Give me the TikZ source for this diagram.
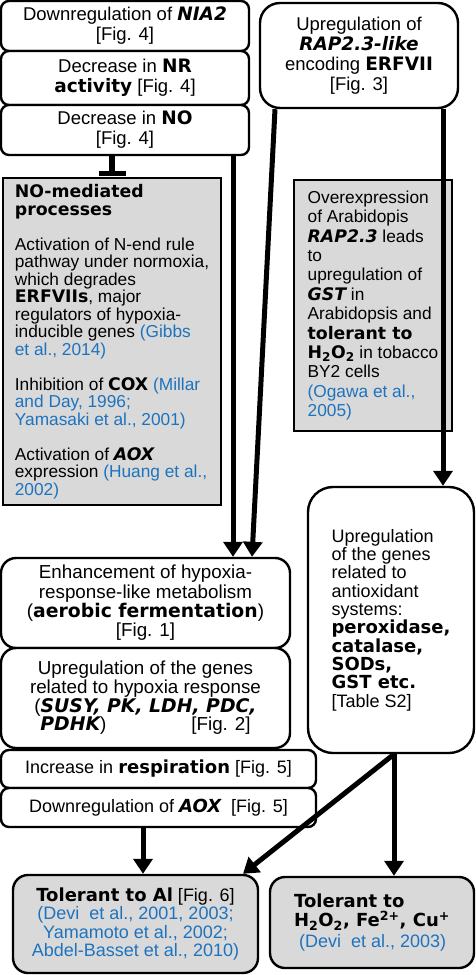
\documentclass[tikz,border=0pt]{standalone}
\usepackage{fontspec}
\setmainfont{Liberation Sans}
\newfontfamily\heavyfont{DejaVu Sans}
\usepackage{xcolor}
\usepackage{tikz}
\usetikzlibrary{arrows.meta}
\definecolor{RefBlue}{RGB}{30,115,190}
\definecolor{BoxGrey}{RGB}{217,217,217}
\newcommand{\hb}[1]{{\heavyfont\bfseries #1}}
\newcommand{\hbi}[1]{{\heavyfont\bfseries\itshape #1}}
\newcommand{\refc}[1]{\textcolor{RefBlue}{#1}}

\begin{document}
\begin{tikzpicture}[x=1pt, y=-1pt,
		box/.style={draw, line width=2.4pt, rounded corners=8pt, fill=white, inner sep=0pt, align=center, font=\fontsize{18.5}{20}\selectfont},
		bigbox/.style={box, rounded corners=15pt, font=\fontsize{18}{19}\selectfont},
		greybox/.style={draw, line width=1.2pt, fill=BoxGrey, inner sep=0pt, align=left, font=\fontsize{17.3}{17.5}\selectfont},
		arr/.style={line width=5pt, -{Triangle[width=19pt, length=15pt]}},
		]
		\useasboundingbox (0,0) rectangle (476,975);
		
		% ===== left column: NIA2 -> NR -> NO =====
		\node[box, minimum width=248pt, minimum height=50pt] (nia) at (125,26) {Downregulation of \hbi{NIA2}\\{}[Fig. 4]};
		\node[box, minimum width=248pt, minimum height=54pt] (nr) at (125,78) {Decrease in \hb{NR}\\\hb{activity} [Fig. 4]};
		\node[box, minimum width=248pt, minimum height=50pt] (no) at (125,130) {Decrease in \hb{NO}\\{}[Fig. 4]};
		
		% ===== right column: RAP2.3-like =====
		\node[box, rounded corners=20pt, minimum width=198pt, minimum height=105pt] (rap) at (359,55.5)
		{Upregulation of\\\hbi{RAP2.3-like}\\encoding \hb{ERFVII}\\{}[Fig. 3]};
		
		% ===== grey boxes (literature) =====
		\node[greybox, minimum width=218pt, minimum height=327pt] (nomed) at (112,341.5)
		{\hb{NO-mediated}\\\hb{processes}\\[17.5pt]
			Activation of N-end rule\\pathway under normoxia,\\which degrades\\\hb{ERFVIIs}, major\\regulators of hypoxia-\\inducible genes \refc{(Gibbs}\\\refc{et al., 2014)}\\[17.5pt]
			Inhibition of \hb{COX} \refc{(Millar}\\\refc{and Day, 1996;}\\\refc{Yamasaki et al., 2001)}\\[17.5pt]
			Activation of \hbi{AOX}\\expression \refc{(Huang et al.,}\\\refc{2002)}};
		\node[greybox, font=\fontsize{17.3}{19.4}\selectfont, minimum width=158pt, minimum height=251pt] (ogawa) at (373,305.5)
		{Overexpression\\of Arabidopis\\\hbi{RAP2.3} leads\\to\\upregulation of\\\hbi{GST} in\\Arabidopsis and\\\hb{tolerant to}\\\hb{H\textsubscript{2}O\textsubscript{2}} in tobacco\\BY2 cells\\\refc{(Ogawa et al.,}\\\refc{2005)}};
		
		% ===== hypoxia-response chain =====
		\node[bigbox, font=\fontsize{18.8}{19.3}\selectfont, minimum width=289pt, minimum height=90pt] (enh) at (145.5,603)
		{Enhancement of hypoxia-\\response-like metabolism\\(\hb{aerobic fermentation})\\{}[Fig. 1]};
		\node[bigbox, font=\fontsize{18.8}{18.7}\selectfont, minimum width=289pt, minimum height=100pt] (hyp) at (145.5,698)
		{Upregulation of the genes\\related to hypoxia response\\(\hbi{SUSY, PK, LDH, PDC,}\\\hbi{PDHK})\hspace*{85pt}[Fig. 2]};
		\node[box, font=\fontsize{18}{19}\selectfont, minimum width=315pt, minimum height=38pt] (resp) at (158.5,769)
		{Increase in \hb{respiration} [Fig. 5]};
		\node[box, font=\fontsize{18}{19}\selectfont, minimum width=315pt, minimum height=39pt] (aox) at (158.5,807.5)
		{Downregulation of \hbi{AOX}\ \ [Fig. 5]};
		
		% ===== antioxidant systems =====
		\node[bigbox, rounded corners=25pt, align=left, font=\fontsize{18}{18.3}\selectfont, minimum width=166pt, minimum height=266pt] (antiox) at (391,620)
		{Upregulation\\of the genes\\related to\\antioxidant\\systems:\\\hb{peroxidase,}\\\hb{catalase,}\\\hb{SODs,}\\\hb{GST etc.}\\{}[Table S2]};
		
		% ===== tolerance =====
		\node[bigbox, fill=BoxGrey, font=\fontsize{18}{18.3}\selectfont, minimum width=245pt, minimum height=98pt] (al) at (135.5,924)
		{\hb{Tolerant to Al} [Fig. 6]\\\refc{(Devi\ \ et al., 2001, 2003;}\\\refc{Yamamoto et al., 2002;}\\\refc{Abdel-Basset et al., 2010)}};
		\node[bigbox, fill=BoxGrey, align=left, font=\fontsize{18}{19.5}\selectfont, minimum width=204pt, minimum height=91pt] (hfc) at (372,922.5)
		{\hb{Tolerant to}\\\hb{H\textsubscript{2}O\textsubscript{2}, Fe\textsuperscript{2+}, Cu\textsuperscript{+}}\\[1pt]\ \refc{(Devi\ \ et al., 2003)}};
		
		% ===== connectors =====
		\coordinate (xNO) at (233,0);
		\coordinate (xRapL) at (275,0);
		\coordinate (xEnh) at (252,0);
		\coordinate (xRapR) at (443,0);
		\coordinate (xAox) at (143,0);
		\coordinate (xAnti) at (394,0);
		\coordinate (xAl) at (243,0);
		
		\draw[line width=6pt, -{Bar[width=27pt, line width=5pt]}, shorten >=1pt] (no.south -| nomed.north) -- (nomed.north);
		\draw[arr] (no.south -| xNO) -- (enh.north -| xNO);
		\draw[arr] (rap.south -| xRapL) -- (enh.north -| xEnh);
		\draw[arr] (rap.south -| xRapR) -- (antiox.north -| xRapR);
		\draw[arr] (aox.south -| xAox) -- (al.north -| xAox);
		\draw[arr] (antiox.south -| xAnti) -- (al.north -| xAl);
		\draw[arr] (antiox.south -| xAnti) -- (hfc.north -| xAnti);
		
	\end{tikzpicture}
\end{document}
